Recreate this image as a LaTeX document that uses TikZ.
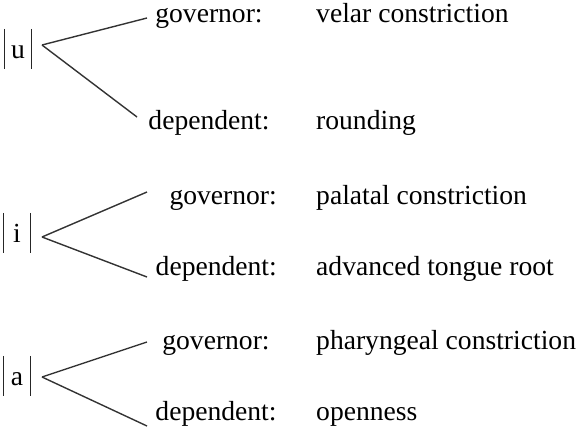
\documentclass[tikz,border=0pt]{standalone}
\usepackage{fontspec}
\setmainfont{Liberation Serif}
\tikzstyle{phon}=[rectangle,inner sep=0pt,minimum width=27pt,
text height=29pt,text depth=11pt,anchor=base]
\tikzstyle{role}=[inner sep=0pt,anchor=base]
\tikzstyle{rrole}=[inner sep=0pt,anchor=base east]
\tikzstyle{gloss}=[inner sep=0pt,anchor=base west]
\tikzstyle{bar}=[line width=1.5pt,draw=black!85]
\tikzstyle{branch}=[line width=1.4pt,draw=black!80]
\usetikzlibrary{positioning}

\begin{document}
\begin{tikzpicture}[x=1pt,y=-1pt,font=\fontsize{27.6}{33}\selectfont]
            \useasboundingbox (0,0) rectangle (581,432);

            % |u| PART

            \node[phon] (u) at (18,58) {u};
            \node[role] (govu) at (209,22) {governor:};
            \node[role] (depu) at (209,129) {dependent:};
            \node[gloss] (velar) at (316,22) {velar constriction};
            \node[gloss] (round) at (316,129) {rounding};
            \coordinate (forku) at (42,45);
            \coordinate (egovu) at (147,18);
            \coordinate (edepu) at (137,117);

            \path[bar] (u.north west) -- (u.south west) (u.north east) -- (u.south east);
            \path[branch] (forku) -- (egovu);
            \path[branch] (forku) -- (edepu);

            % |i| PART

            \node[phon] (i) at (17,242) {i};
            \node[rrole] (govi) at (277,204) {governor:};
            \node[rrole] (depi) at (277,275) {dependent:};
            \node[gloss] (palat) at (316,204) {palatal constriction};
            \node[gloss] (atr) at (316,275) {advanced tongue root};
            \coordinate (forki) at (42,237);
            \coordinate (egovi) at (147,192);
            \coordinate (edepi) at (147,277);

            \path[bar] (i.north west) -- (i.south west) (i.north east) -- (i.south east);
            \path[branch] (forki) -- (egovi);
            \path[branch] (forki) -- (edepi);

            % |a| PART

            \node[phon] (a) at (17,385) {a};
            \node[role] (gova) at (216,349) {governor:};
            \node[role] (depa) at (216,420) {dependent:};
            \node[gloss] (phar) at (316,349) {pharyngeal constriction};
            \node[gloss] (open) at (316,420) {openness};
            \coordinate (forka) at (42,377);
            \coordinate (egova) at (147,342);
            \coordinate (edepa) at (147,426);

            \path[bar] (a.north west) -- (a.south west) (a.north east) -- (a.south east);
            \path[branch] (forka) -- (egova);
            \path[branch] (forka) -- (edepa);

\end{tikzpicture}
\end{document}
